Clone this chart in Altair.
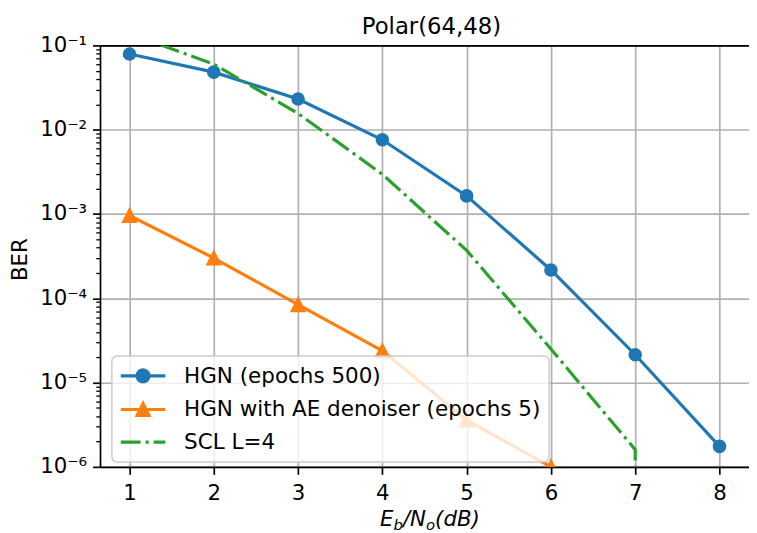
import altair as alt
import pandas as pd

# ---------------- data ----------------
names = ["HGN (epochs 500)", "HGN with AE denoiser (epochs 5)", "SCL L=4"]
colors = ["#1f77b4", "#ff7f0e", "#2ca02c"]

hgn_x = [1, 2, 3, 4, 5, 6, 7, 8]
hgn_ber = [0.079, 0.0482, 0.0231, 0.0076, 0.00164, 0.000217, 2.14e-5, 1.75e-6]

ae_x = [1, 2, 3, 4, 5, 6]
ae_ber = [9.6e-4, 3.0e-4, 8.4e-5, 2.38e-5, 3.59e-6, 1.0e-6]

scl_x = [1, 2, 3, 4, 5, 6, 7, 7]
scl_ber = [0.138, 0.060, 0.0156, 0.00296, 3.7e-4, 2.5e-5, 1.6e-6, 1e-7]

x_ticks = [1, 2, 3, 4, 5, 6, 7, 8]
decades = [-6, -5, -4, -3, -2, -1]

# ---------------- tables ----------------
hgn_df = pd.DataFrame({"x": hgn_x, "y": hgn_ber})
ae_df = pd.DataFrame({"x": ae_x, "y": ae_ber})
scl_df = pd.DataFrame({"x": scl_x, "y": scl_ber, "i": list(range(len(scl_x)))})

y_ticks = [10.0 ** d for d in decades] + [k * 10.0 ** d for d in decades[:-1] for k in range(2, 10)]

FONT = "DejaVu Sans"
BLACK = "#000000"
GRID = "#b0b0b0"
FS = 21.5
LW = 3.2
DASH = [20, 5, 3.2, 5]

MAJ = "abs(log(datum.value)/LN10 - round(log(datum.value)/LN10)) < 0.001"
SUP = "['⁰','¹','²','³','⁴','⁵','⁶','⁷'][-round(log(datum.value)/LN10)]"

xscale = alt.Scale(domain=[0.65, 8.35], nice=False, zero=False)
yscale = alt.Scale(type="log", domain=[1e-6, 1e-1], nice=False)

x_axis = alt.Axis(
    values=x_ticks, format="d", title=None,
    grid=True, gridColor=GRID, gridWidth=1.7,
    tickSize=7.5, tickWidth=1.7, tickColor=BLACK,
    domainColor=BLACK, domainWidth=1.7,
    labelFont=FONT, labelFontSize=FS, labelColor=BLACK, labelPadding=8,
    labelFlush=False, labelOverlap=False,
)
y_axis = alt.Axis(
    values=y_ticks,
    labelExpr=f"({MAJ}) ? '10⁻' + {SUP} : ''",
    grid=True, gridColor=GRID, gridWidth=1.7,
    gridOpacity={"condition": {"test": MAJ, "value": 1}, "value": 0},
    tickSize={"condition": {"test": MAJ, "value": 7.5}, "value": 4.3},
    tickWidth={"condition": {"test": MAJ, "value": 1.7}, "value": 1.3},
    tickColor=BLACK, domainColor=BLACK, domainWidth=1.7,
    labelFont=FONT, labelFontSize=FS, labelColor=BLACK, labelPadding=6,
    labelOverlap=False, labelFlush=False,
    title="BER", titleFont=FONT, titleFontSize=FS, titleFontWeight="normal",
    titleColor=BLACK, titleX=-80, titleY=216, titleAngle=270,
    titleAlign="center", titleBaseline="middle",
)

X = alt.X("x:Q", scale=xscale, axis=x_axis)
Y = alt.Y("y:Q", scale=yscale, axis=y_axis)

tri_path = "M0,-1L1,1L-1,1Z"

blue_line = alt.Chart(hgn_df).mark_line(color=colors[0], strokeWidth=LW, clip=True).encode(x=X, y=Y)
blue_pts = alt.Chart(hgn_df).mark_point(
    filled=True, shape="circle", size=133, color=colors[0], stroke=colors[0],
    strokeWidth=2.2, opacity=1, clip=True).encode(x=X, y=Y)
orange_line = alt.Chart(ae_df).mark_line(color=colors[1], strokeWidth=LW, clip=True).encode(x=X, y=Y)
orange_pts = alt.Chart(ae_df).mark_point(
    filled=True, shape=tri_path, size=169, color=colors[1], stroke=colors[1],
    strokeWidth=2.2, opacity=1, clip=True).encode(x=X, y=Y)
green_line = alt.Chart(scl_df).mark_line(
    color=colors[2], strokeWidth=LW, strokeDash=DASH, clip=True
).encode(x=X, y=Y, order=alt.Order("i:Q"))

inner = alt.layer(blue_line, blue_pts, orange_line, orange_pts, green_line)

# top spine
top_axis = alt.Axis(orient="top", labels=False, ticks=False, grid=False, domain=True,
                    domainColor=BLACK, domainWidth=1.7, title=None)
top_layer = alt.Chart(hgn_df).transform_filter("false").mark_point().encode(
    x=alt.X("x:Q", scale=xscale, axis=top_axis))

# legend (line + marker handles)
leg_paths = [
    "M-1.1,0L3.4,0M1.75,0A0.6,0.6,0,1,1,0.55,0A0.6,0.6,0,1,1,1.75,0Z",
    "M-1.1,0L3.4,0M1.15,-0.6L1.75,0.6L0.55,0.6Z",
    "M-1.1,0L3.4,0",
]
leg = alt.Legend(title=None)
legend_layer = alt.Chart(alt.Data(values=[{"series": n} for n in names])).transform_filter(
    "false").mark_point(filled=True, size=400, strokeWidth=LW, opacity=1).encode(
    shape=alt.Shape("series:N", scale=alt.Scale(domain=names, range=leg_paths), legend=leg),
    fill=alt.Fill("series:N", scale=alt.Scale(domain=names, range=colors), legend=leg),
    stroke=alt.Stroke("series:N", scale=alt.Scale(domain=names, range=colors), legend=leg),
    strokeDash=alt.StrokeDash("series:N", scale=alt.Scale(
        domain=names, range=[[1, 0], [1, 0], DASH]), legend=leg),
)

# x-axis title with subscripts: E_b/N_o(dB)
one = alt.Data(values=[{}])
def piece(txt, px, py, size):
    return alt.Chart(one).mark_text(
        text=txt, font=FONT, fontStyle="italic", fontSize=size, align="left",
        baseline="alphabetic", color=BLACK).encode(x=alt.value(px), y=alt.value(py))

dx = 4
xt = [piece("E", 279.0 + dx, 486, 21.5), piece("b", 292.6 + dx, 490, 15),
      piece("/N", 302.2 + dx, 486, 21.5), piece("o", 325.5 + dx, 490, 15),
      piece("(dB)", 334.7 + dx, 486, 21.5)]

chart = alt.layer(inner, top_layer, legend_layer, *xt).resolve_axis(x="independent").properties(
    width=656, height=426,
    autosize=alt.AutoSizeParams(type="none"),
    padding={"left": 93, "top": 35, "right": 0, "bottom": 64},
    title=alt.TitleParams("Polar(64,48)", font=FONT, fontSize=23, fontWeight="normal",
                          color=BLACK, anchor="middle", baseline="alphabetic", offset=-22,
                          dx=7, frame="group"),
).configure(font=FONT).configure_view(stroke=None).configure_legend(
    orient="none", legendX=12, legendY=314, padding=8,
    fillColor="rgba(255,255,255,0.8)", strokeColor="#cccccc", strokeWidth=1.5,
    cornerRadius=5, labelFont=FONT, labelFontSize=21.7, labelColor=BLACK, labelLimit=600,
    rowPadding=8, symbolSize=400, symbolStrokeWidth=LW, labelOffset=41,
)

chart.save("out.html", embed_options={"renderer": "svg", "actions": False})
